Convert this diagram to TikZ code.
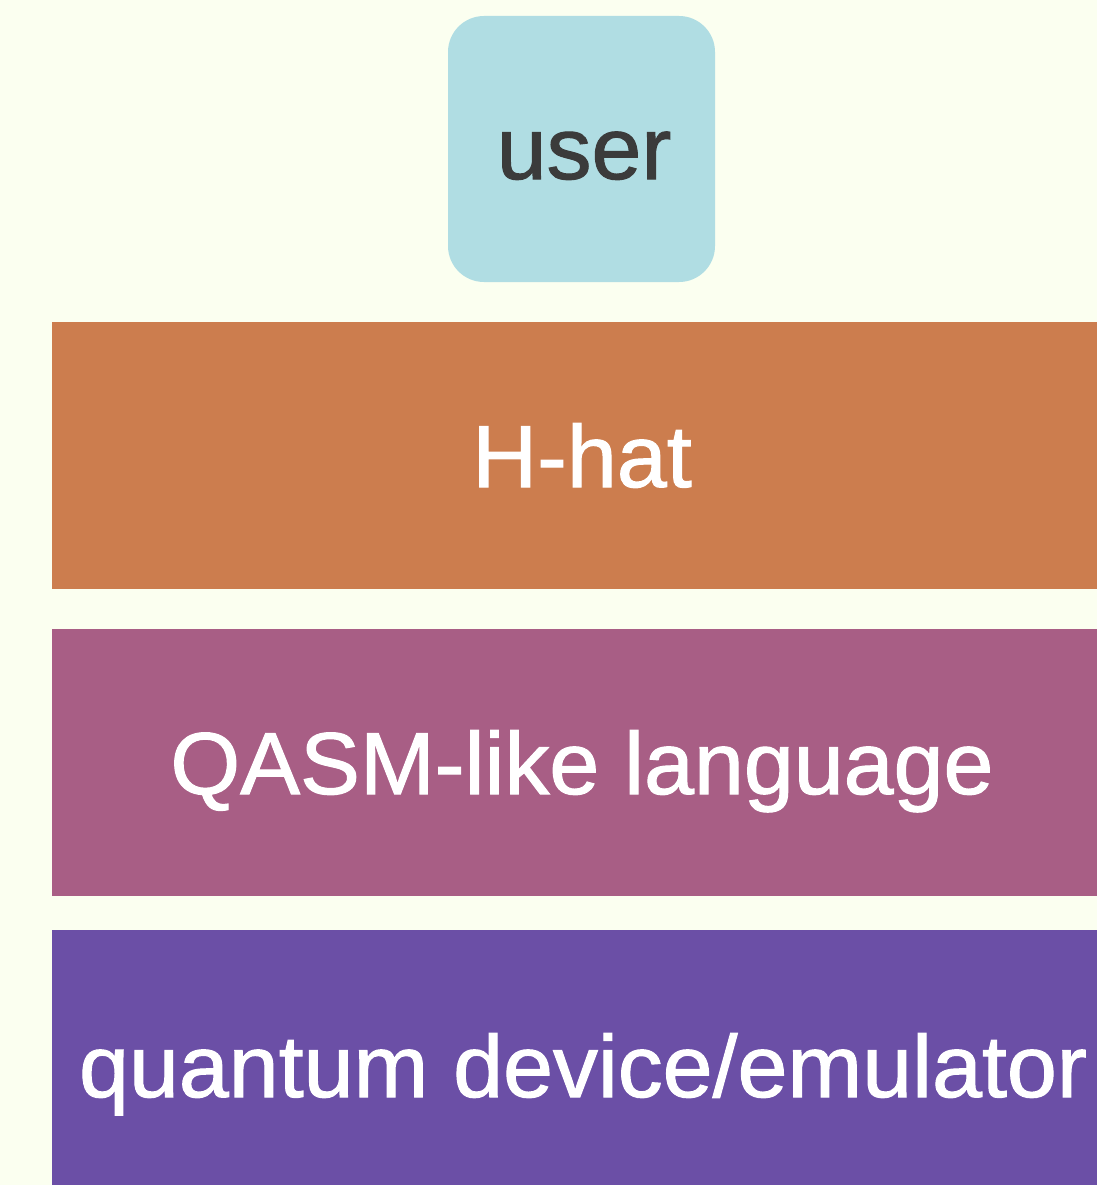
\documentclass[tikz,border=0pt]{standalone}
\usepackage{fontspec}
\setmainfont[FakeStretch=1.02,FakeBold=1.2]{Liberation Sans}
\definecolor{bg}{HTML}{FBFFF0}
\definecolor{userbg}{HTML}{B0DDE3}
\definecolor{usertxt}{HTML}{3B3B3B}
\definecolor{hhat}{HTML}{CC7D4E}
\definecolor{qasm}{HTML}{A85E85}
\definecolor{qdev}{HTML}{6B4FA6}
\begin{document}
\begin{tikzpicture}[x=1pt,y=-1pt,
  lbl/.style={anchor=base,inner sep=0pt,font=\fontsize{88}{100}\selectfont}]
\fill[bg] (0,0) rectangle (1097,1185);
\useasboundingbox (0,0) rectangle (1097,1185);
\fill[userbg,rounded corners=36pt] (448,16) rectangle (715,282);
\fill[hhat] (52,322) rectangle (1097,589);
\fill[qasm] (52,629) rectangle (1097,896);
\fill[qdev] (52,930) rectangle (1097,1185);
\node[lbl,text=usertxt] (user) at (584,179) {user};
\node[lbl,text=white] (hhatlbl) at (582,487) {H-hat};
\node[lbl,text=white] (qasmlbl) at (582,794) {QASM-like language};
\node[lbl,text=white] (qdevlbl) at (583,1097) {quantum device/emulator};
\end{tikzpicture}
\end{document}
